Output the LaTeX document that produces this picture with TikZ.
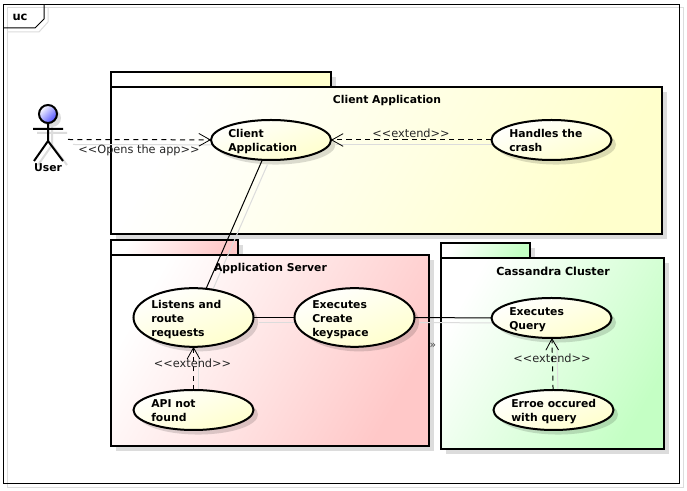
\documentclass[tikz,border=0pt]{standalone}
\usepackage{fontspec}
\setmainfont{DejaVu Sans}
\usetikzlibrary{shapes.geometric,arrows.meta,shadows,calc}
\pgfdeclarelayer{pkg}
\pgfdeclarelayer{edges}
\pgfsetlayers{pkg,edges,main}
\definecolor{shgray}{HTML}{DCDCDC}
\definecolor{ucyellow}{HTML}{FFFFCC}
\definecolor{pkred}{HTML}{FFC8C8}
\definecolor{pkgreen}{HTML}{C4FFC4}
\tikzset{
  pkgbox/.style={draw=black,line width=1.5pt,left color=white,right color=#1,shading angle=60},
  pkgshadow/.style={fill=shgray,draw=none},
  usecase/.style={ellipse,draw=black,line width=1.5pt,inner sep=0pt,outer sep=0pt,
    minimum width=90pt,minimum height=#1,left color=white,right color=ucyellow,shading angle=20,
    general shadow={shadow xshift=3.4pt,shadow yshift=-3.4pt,fill=black,opacity=.14}},
  uctext/.style={anchor=north west,inner sep=0pt,align=left,font=\fontsize{8.1}{10.5}\selectfont\bfseries},
  pkgtitle/.style={inner sep=0pt,font=\fontsize{8.1}{10.5}\selectfont\bfseries},
  edgelabel/.style={inner sep=0pt,text=black!85,font=\fontsize{8.5}{10}\selectfont},
  assoc/.style={draw=black,line width=.75pt},
  depend/.style={draw=black,line width=.75pt,dash pattern=on 3.8pt off 3.2pt,-{Straight Barb[length=8.5pt,width=9.5pt,line width=.6pt]}},
  edgeshadow/.style={draw=shgray,line width=.75pt},
  actorline/.style={draw=black,line width=1.5pt},
  actorshadow/.style={draw=shgray,line width=1.5pt}
}
\begin{document}
\begin{tikzpicture}[x=0.75pt,y=-0.75pt]
\useasboundingbox (0,0) rectangle (687,491);
\begin{pgfonlayer}{pkg}
  \fill[white] (0,0) rectangle (687,491);
  % frame
  \draw[shgray,line width=.75pt] (7,8) -- (683,8) -- (683,488) -- (7,488) -- cycle;
  \draw[shgray,line width=.75pt] (7,32) -- (39,32) -- (48,22) -- (48,8);
  \draw[black,line width=.75pt] (3.5,4.5) rectangle (679,484);
  \draw[black,line width=.75pt] (3.5,28) -- (35,28) -- (44,19) -- (44,4.5);
  % package shadows
  \fill[pkgshadow] (116,77) rectangle (336,92);
  \fill[pkgshadow] (116,92) rectangle (667,239);
  \fill[pkgshadow] (116,245) rectangle (243,260);
  \fill[pkgshadow] (116,260) rectangle (434,451);
  \fill[pkgshadow] (446,248) rectangle (535,263);
  \fill[pkgshadow] (446,263) rectangle (669,454);
  % packages
  \path[pkgbox=ucyellow] (111,72) rectangle (331,87);
  \path[pkgbox=ucyellow] (111,87) rectangle (662,234);
  \path[pkgbox=pkred] (111,240) rectangle (238,255);
  \path[pkgbox=pkred] (111,255) rectangle (429,446);
  \path[pkgbox=pkgreen] (441,243) rectangle (530,258);
  \path[pkgbox=pkgreen] (441,258) rectangle (664,449);
\end{pgfonlayer}

\node[inner sep=0pt,font=\fontsize{8.6}{10}\selectfont\bfseries] (frametitle) at (20,17) {uc};
\node[pkgtitle] (t1) at (387,101) {Client Application};
\node[pkgtitle] (t2) at (270.5,268.5) {Application Server};
\node[pkgtitle,font=\fontsize{8.3}{10.5}\selectfont\bfseries] (t3) at (553,271.5) {Cassandra Cluster};

% use cases
\node[usecase=30pt] (client) at (271,140) {};
\node[usecase=30pt] (crash) at (551.5,140) {};
\node[usecase=44pt] (listens) at (193.5,317.5) {};
\node[usecase=44pt] (create) at (354.5,317.5) {};
\node[usecase=30pt] (api) at (193.5,410) {};
\node[usecase=30pt] (query) at (551.5,318) {};
\node[usecase=30pt] (erroe) at (553.5,410) {};

\node[uctext] (clientT) at (228,129) {Client\\Application};
\node[uctext] (crashT) at (509,129) {Handles the\\crash};
\node[uctext] (listensT) at (151,300) {Listens and\\route\\requests};
\node[uctext] (createT) at (312,300) {Executes\\Create\\keyspace};
\node[uctext] (apiT) at (151,399) {API not\\found};
\node[uctext] (queryT) at (509,307) {Executes\\Query};
\node[uctext] (erroeT) at (511,399) {Erroe occured\\with query};

% actor
\coordinate (userR) at (68,139.5);
\begin{scope}[shift={(4,4)}]
  \draw[actorshadow] (33,129) -- (63,129) (48,123) -- (48,141) -- (34,161) (48,141) -- (63,161);
  \fill[shgray] (48,114) circle[radius=9];
\end{scope}
\draw[actorline] (33,129) -- (63,129) (48,123) -- (48,141) -- (34,161) (48,141) -- (63,161);
\draw[black,line width=1.5pt,left color=white,right color=blue!70!white,shading angle=45] (48,114) circle[radius=9];
\node[pkgtitle] (user) at (48,167.5) {User};

% connectors
\begin{pgfonlayer}{edges}
  \begin{scope}[transform canvas={xshift=3.75pt,yshift=-3.75pt}]
    \draw[edgeshadow] (userR) -- (client);
    \draw[edgeshadow] (crash) -- (client);
    \draw[edgeshadow] (client) -- (listens);
    \draw[edgeshadow] (listens) -- (create);
    \draw[edgeshadow] (create) -- (query);
    \draw[edgeshadow] (api) -- (listens);
    \draw[edgeshadow] (erroe) -- (query);
  \end{scope}
  \draw[depend] (userR) -- (client);
  \draw[depend] (crash) -- (client);
  \draw[assoc] (client) -- (listens);
  \draw[assoc] (listens) -- (create);
  \draw[assoc] (create) -- (query);
  \draw[depend] (api) -- (listens);
  \draw[depend] (erroe) -- (query);
\end{pgfonlayer}

\node[edgelabel] (l1) at (139,150.5) {<{}<Opens the app>{}>};
\node[edgelabel] (l2) at (411,133.5) {<{}<extend>{}>};
\node[edgelabel] (l3) at (192.5,363) {<{}<extend>{}>};
\node[edgelabel] (l4) at (552,358) {<{}<extend>{}>};
\node[inner sep=0pt,text=black!70,font=\fontsize{8}{9}\selectfont] (l5) at (433,345.5) {»};
\end{tikzpicture}
\end{document}
